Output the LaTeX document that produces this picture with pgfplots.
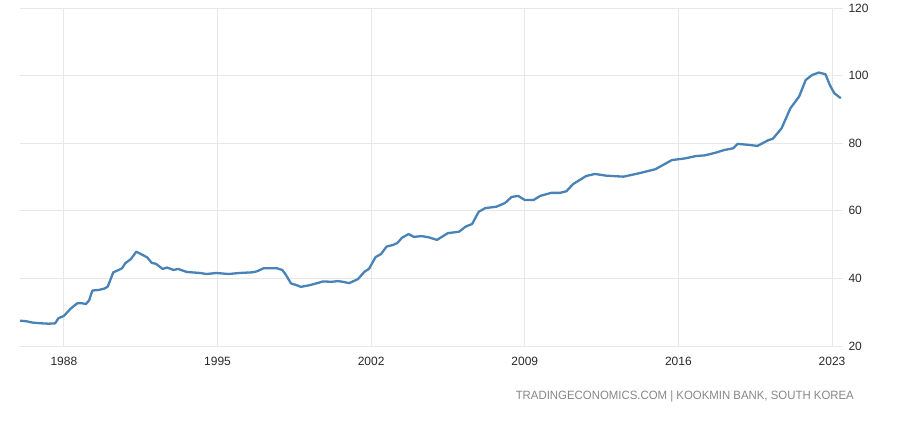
\documentclass[border=0pt]{standalone}
\usepackage{pgfplots}
\pgfplotsset{compat=1.18}
\usepackage{fontspec}
\setmainfont{Liberation Sans}
\definecolor{linec}{RGB}{72,130,182}
\definecolor{gridc}{RGB}{232,232,232}
\definecolor{tickc}{RGB}{40,40,40}
\definecolor{srcc}{RGB}{135,135,135}
\begin{document}
\begin{tikzpicture}[x=1bp,y=1bp]
\begin{axis}[
  name=main,
  at={(20bp,76bp)}, anchor=south west,
  scale only axis,
  width=823bp, height=338bp,
  xmin=1986, xmax=2023.5,
  ymin=20, ymax=120,
  xtick={1988,1995,2002,2009,2016,2023},
  ytick={20,40,60,80,100,120},
  grid=major,
  major grid style={draw=gridc, line width=0.8bp},
  axis line style={draw=none},
  major tick length=0pt,
  yticklabel pos=right,
  /pgf/number format/assume math mode=true,
  /pgf/number format/1000 sep=,
  tick label style={font=\fontsize{12bp}{14bp}\selectfont, text=tickc},
  xticklabel style={yshift=-8bp},
  yticklabel style={xshift=2bp},
  clip=false,
]
\addplot[color=linec, line width=2.3bp, line join=round] coordinates {
(1986.0,27.5) (1986.3,27.3) (1986.6,26.9) (1987.0,26.7) (1987.3,26.6) (1987.6,26.7)
(1987.75,28.2) (1988.0,28.9) (1988.3,31.0) (1988.6,32.6) (1988.8,32.7) (1989.0,32.4)
(1989.15,33.5) (1989.3,36.4) (1989.6,36.6) (1989.85,37.0) (1990.0,37.6) (1990.25,41.8)
(1990.5,42.5) (1990.65,43.0) (1990.8,44.5) (1991.05,45.7) (1991.3,47.9) (1991.6,46.9)
(1991.8,46.2) (1992.0,44.6) (1992.2,44.3) (1992.5,42.8) (1992.7,43.2) (1993.0,42.5)
(1993.2,42.8) (1993.6,41.9) (1994.2,41.6) (1994.5,41.3) (1994.95,41.6) (1995.5,41.3)
(1996.0,41.6) (1996.6,41.8) (1996.8,42.1) (1997.1,43.0) (1997.7,43.0) (1997.95,42.5)
(1998.1,41.2) (1998.35,38.5) (1998.6,38.0) (1998.8,37.5) (1999.2,38.0) (1999.6,38.7)
(1999.8,39.1) (2000.2,39.0) (2000.5,39.2) (2000.7,39.0) (2001.0,38.6) (2001.4,39.8)
(2001.7,42.0) (2001.9,42.8) (2002.2,46.3) (2002.45,47.2) (2002.7,49.4) (2003.0,49.9)
(2003.2,50.5) (2003.4,52.0) (2003.7,53.1) (2003.95,52.3) (2004.3,52.5) (2004.6,52.2)
(2005.0,51.4) (2005.2,52.2) (2005.5,53.4) (2006.0,53.8) (2006.3,55.3) (2006.6,56.1)
(2006.9,59.7) (2007.2,60.8) (2007.7,61.2) (2008.1,62.3) (2008.4,64.1) (2008.7,64.4)
(2009.0,63.2) (2009.4,63.2) (2009.7,64.4) (2010.2,65.3) (2010.6,65.3) (2010.9,65.8)
(2011.2,67.9) (2011.8,70.3) (2012.2,70.9) (2012.7,70.4) (2013.5,70.1) (2014.2,71.1)
(2014.95,72.3) (2015.7,75.0) (2016.3,75.5) (2016.8,76.2) (2017.2,76.4) (2017.7,77.2)
(2018.1,78.0) (2018.5,78.5) (2018.7,79.8) (2019.2,79.5) (2019.6,79.2) (2020.1,80.9)
(2020.3,81.3) (2020.7,84.4) (2021.1,90.3) (2021.5,93.8) (2021.8,98.7) (2022.1,100.2)
(2022.4,100.9) (2022.7,100.4) (2022.9,97.2) (2023.1,94.8) (2023.4,93.3)
};
\end{axis}
\path[use as bounding box] (0,0) rectangle (900bp,422bp);
\node[anchor=east, text=srcc, inner sep=0pt] at (854bp,26bp)
  {\scalebox{0.95}[1]{\fontsize{12bp}{14bp}\selectfont TRADINGECONOMICS.COM | KOOKMIN BANK, SOUTH KOREA}};
\end{tikzpicture}
\end{document}
